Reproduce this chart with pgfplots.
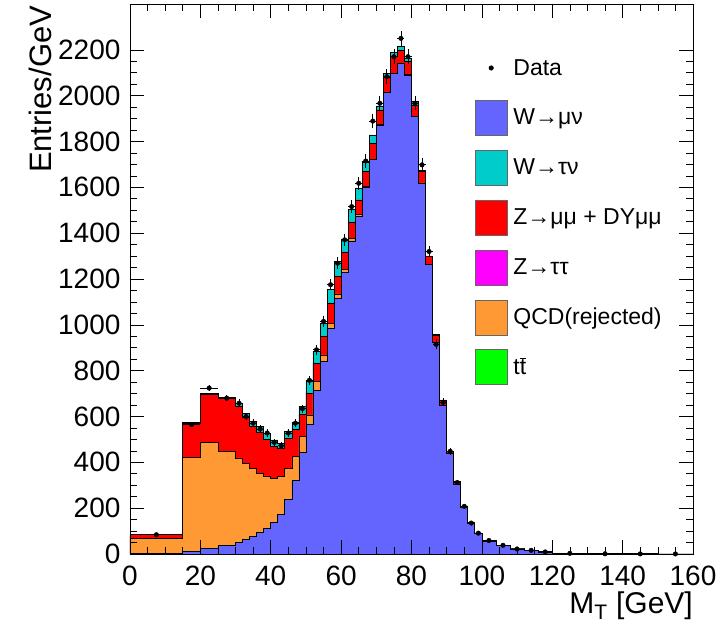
\documentclass[border=0pt]{standalone}
\usepackage{fontspec}
\setmainfont{Liberation Sans}
\usepackage{pgfplots}
\usepackage{pgfplotstable}
\pgfplotsset{compat=1.18}
\definecolor{cwmn}{RGB}{100,100,255}
\definecolor{cwtn}{RGB}{0,204,204}
\definecolor{czmm}{RGB}{255,0,0}
\definecolor{cztt}{RGB}{255,0,255}
\definecolor{cqcd}{RGB}{255,153,51}
\definecolor{cttb}{RGB}{0,255,0}
\pgfplotsset{
  boxleg/.style={legend image code/.code={\draw[##1] (0pt,-17.5pt) rectangle (32pt,17.5pt);}},
  dataleg/.style={legend image code/.code={\path[draw=none,fill=none] (0pt,-17.5pt) rectangle (32pt,17.5pt); \fill[black] (16pt,0pt) circle (2.3pt);}}
}
% bins: lower edge, W->munu, QCD, Z->mumu, W->taunu  (Entries/GeV)
\pgfplotstableread{
xlo  blue  qcd  zmm  wtn
0    1     67   16   0
15   11    412  148  3
20   23    464  211  4
25   37    411  230  7
30   50    369  224  15
32   62    335  200  18
34   76    299  183  20
36   93    260  180  24
38   113   228  160  27
40   138   193  140  27
42   174   165  120  25
44   240   135  130  30
46   321   105  118  30
48   443   70   96   35
50   567   40   95   51
52   715   38   80   51
54   840   29   80   58
56   983   24   85   61
58   1116  19   76   65
60   1228  15   75   50
62   1366  12   68   56
64   1472  8    65   51
66   1600  5    64   39
68   1720  3    69   37
70   1872  2    64   17
72   2013  2    67   15
74   2097  1    72   18
76   2141  1    57   18
78   2090  1    57   15
80   1909  1    49   15
82   1618  1    50   5
84   1262  0    36   3
86   925   0    30   2
88   647   0    24   1
90   438   0    11   1
92   305   0    9    1
94   203   0    6    1
96   133   0    5    0
98   88    0    4    0
100  57    0    3    0
104  36    0    2    0
108  22    0    1    0
112  14    0    1    0
116  9.5   0    0.5  0
120  3.7   0    0.3  0
130  1.4   0    0.1  0
140  0.7   0    0    0
150  0.35  0    0    0
160  0.35  0    0    0
}\hist
\pgfplotstableread{
xc    y     xe   ye
7.5   84    7.5  2.4
17.5  565   2.5  10.6
22.5  724   2.5  12.0
27.5  680   2.5  11.7
31    658   1    18.1
33    600   1    17.3
35    571   1    16.9
37    545   1    16.5
39    528   1    16.2
41    487   1    15.6
43    472   1    15.4
45    528   1    16.2
47    571   1    16.9
49    634   1    17.8
51    758   1    19.5
53    891   1    21.1
55    1015  1    22.5
57    1175  1    24.2
59    1269  1    25.2
61    1371  1    26.2
63    1516  1    27.5
65    1618  1    28.4
67    1715  1    29.3
69    1889  1    30.7
71    1967  1    31.4
73    2083  1    32.3
75    2170  1    32.9
77    2250  1    33.5
79    2170  1    32.9
81    1967  1    31.4
83    1698  1    29.1
85    1320  1    25.7
87    915   1    21.4
89    662   1    18.2
91    448   1    15.0
93    312   1    12.5
95    208   1    10.2
97    135   1    8.2
99    91    1    6.7
102   59    2    3.8
106   38    2    3.1
110   22    2    2.3
114   16    2    2.0
118   9     2    1.5
125   3     5    0.55
135   1     5    0.32
145   0.5   5    0.22
155   0.3   5    0.17
}\data
\begin{document}
\begin{tikzpicture}
\begin{axis}[
  at={(0,0)}, anchor=south west,
  width=563pt, height=550pt, scale only axis,
  xmin=0, xmax=160, ymin=0, ymax=2400,
  xtick={0,20,...,160}, ytick={0,200,...,2200},
  minor x tick num=3, minor y tick num=3,
  tick align=inside, major tick length=14pt, minor tick length=7pt,
  xtick pos=both, ytick pos=both, xticklabel pos=lower, yticklabel pos=left,
  axis on top,
  tick style={black, line width=0.6pt},
  axis line style={line width=0.8pt},
  tick label style={font=\fontsize{28}{30}\selectfont},
  xticklabel style={yshift=-8pt},
  yticklabel style={xshift=-6pt},
  /pgf/number format/assume math mode=true,
  /pgf/number format/1000 sep={},
  xlabel={M\textsubscript{T} [GeV]},
  ylabel={Entries/GeV},
  every axis x label/.style={at={(rel axis cs:1,0)}, anchor=north east, yshift=-38pt, inner sep=0pt, font=\fontsize{30}{32}\selectfont},
  every axis y label/.style={at={(rel axis cs:-0.1385,0.997)}, rotate=90, anchor=south east, inner sep=0pt, font=\fontsize{31}{33}\selectfont},
  legend style={at={(rel axis cs:0.6128,0.9155)}, anchor=north west, draw=none, fill=none,
    inner sep=0pt, outer sep=0pt, row sep=14.5pt, column sep=6pt,
    font=\fontsize{23}{25}\selectfont, nodes={inner sep=0pt}},
  legend cell align=left,
]
\addplot[const plot, fill=cwtn, draw=black, line width=0.7pt, forget plot]
  table[x=xlo, y expr=\thisrow{blue}+\thisrow{qcd}+\thisrow{zmm}+\thisrow{wtn}] {\hist} \closedcycle;
\addplot[const plot, fill=czmm, draw=black, line width=0.7pt, forget plot]
  table[x=xlo, y expr=\thisrow{blue}+\thisrow{qcd}+\thisrow{zmm}] {\hist} \closedcycle;
\addplot[const plot, fill=cqcd, draw=black, line width=0.7pt, forget plot]
  table[x=xlo, y expr=\thisrow{blue}+\thisrow{qcd}] {\hist} \closedcycle;
\addplot[const plot, fill=cwmn, draw=black, line width=0.7pt, forget plot]
  table[x=xlo, y=blue] {\hist} \closedcycle;
\addplot[only marks, mark=*, mark size=2.3pt, black, forget plot,
  error bars/.cd, x dir=both, x explicit, y dir=both, y explicit, error mark=none,
  error bar style={line width=0.8pt, black}]
  table[x=xc, y=y, x error=xe, y error=ye] {\data};
\addlegendimage{dataleg}
\addlegendentry{Data}
\addlegendimage{boxleg, fill=cwmn, draw=black!60}
\addlegendentry{W→μν}
\addlegendimage{boxleg, fill=cwtn, draw=black!60}
\addlegendentry{W→τν}
\addlegendimage{boxleg, fill=czmm, draw=black!60}
\addlegendentry{Z→μμ + DYμμ}
\addlegendimage{boxleg, fill=cztt, draw=black!60}
\addlegendentry{Z→ττ}
\addlegendimage{boxleg, fill=cqcd, draw=black!60}
\addlegendentry{QCD(rejected)}
\addlegendimage{boxleg, fill=cttb, draw=black!60}
\addlegendentry{t$\overline{\mbox{t}}$}
\end{axis}
\pgfresetboundingbox
\path (-130pt,-75pt) rectangle (593pt,554pt);
\end{tikzpicture}
\end{document}
